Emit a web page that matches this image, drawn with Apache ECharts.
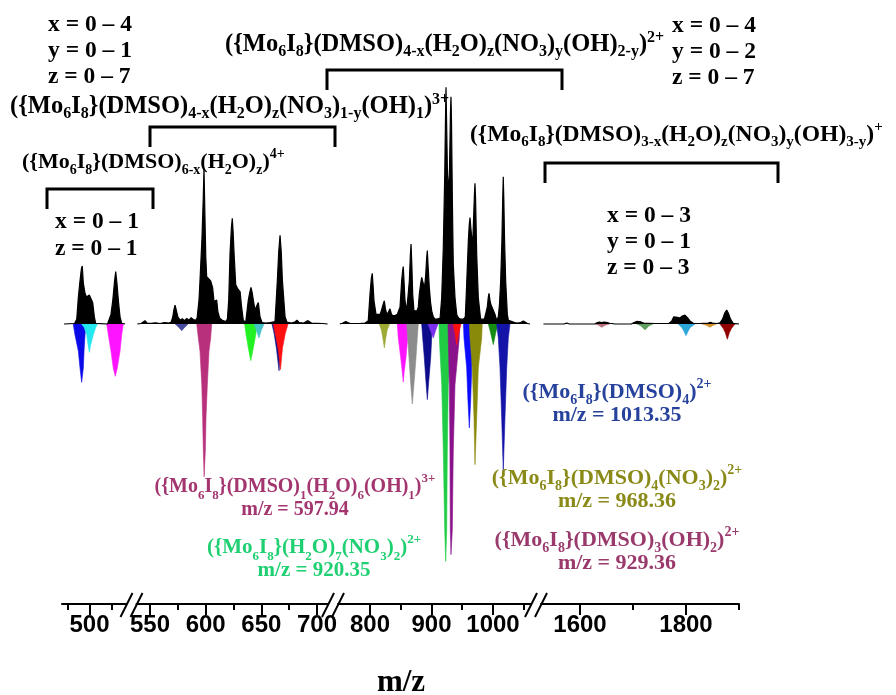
<!DOCTYPE html>
<html><head><meta charset="utf-8">
<script src="https://cdn.jsdelivr.net/npm/echarts@6/dist/echarts.min.js"></script>
<style>html,body{margin:0;padding:0;background:#fff}#c{width:896px;height:695px}</style>
</head><body><div id="c"></div>
<script>
// ---------------- DATA ----------------
const axisRanges = [[468.75, 542.05], [537.87, 709.88], [747.97, 1061.79], [1526.42, 1900]];
const majorTicks = [[500], [550, 600, 650, 700], [800, 900, 1000], [1600, 1800]];
const minorTicks = [[475, 525], [575, 625, 675], [850, 950, 1050], [1700, 1900]];

const expSeg1 = [[471,0],[483,0.2],[485.5,2],[487.3,11],[489.2,18],[490.8,23],[491.8,24.2],[493,17],[494.9,12.8],[496.5,11.3],[498,11.8],[499.8,12.1],[501.7,11.5],[503.6,9],[505.5,3],[507,0.3],[509,0],[520.5,0],[522.2,0.8],[524.4,4],[526.5,10],[528.5,18],[529.8,21.8],[531.2,17],[533,9],[534.7,3],[536.6,0.3],[540.5,0]];
const expSeg2 = [[538.6,0],[542,0.2],[543.5,0.8],[545.5,1.4],[547.5,0.4],[551,0.3],[555,0.5],[559,0.2],[563,0.6],[567,0.4],[569,0.8],[570.5,3],[571.5,6],[572.5,7.9],[573.5,6],[575,3],[577,1.6],[579,2.2],[581,1.4],[583,2.3],[585,1.6],[587,2.6],[589,1.8],[591,1.5],[592.3,2.5],[594,10],[594.9,18],[596.7,36],[597.8,52],[598.5,65],[599.2,48],[600.1,28],[600.9,19.7],[602.5,19],[604.5,18],[606.3,15],[607.5,9.4],[608.8,9.5],[609.9,10],[611,5],[612.5,2.5],[615,1.5],[618,1],[619.5,2],[620.7,10],[621.9,29.5],[623.1,40],[623.9,44],[624.7,38],[625.5,29.5],[627,16.3],[629,14.5],[630.9,13.5],[632.3,7],[633.8,1.5],[636,0.8],[638.3,10],[639.5,13],[640.7,15.3],[641.8,13],[642.8,10],[644.3,5.8],[645.8,7.5],[647.3,8.9],[648.8,3],[650.6,0.6],[654,0.4],[658,0.6],[662.3,1],[664.4,18.3],[665.6,30],[666.8,37],[667.9,30],[668.9,18.3],[671.3,3],[673,0.8],[677,0.4],[680,0.8],[682,1.6],[684,0.6],[688,0.4],[691.9,1.4],[695,0.4],[700,0.3],[705,0.2],[709.5,0]];
const expSeg3 = [[751,0],[755,0.3],[757.7,0.6],[760.5,1],[764,0.6],[768,0.2],[775,0.2],[785,0.3],[792,0.4],[797.2,1.4],[800,12.5],[802.2,19],[803.7,21.1],[805,16],[806.5,9.7],[809.8,4],[813,3.8],[816.3,4],[818.5,5.5],[820,7],[821.7,8.5],[823.3,9.7],[825,6.5],[827.2,4],[830,5],[832.5,6.3],[834.5,4.5],[836.3,3.5],[840.7,3.5],[844.4,4],[846.6,5.5],[848.8,7],[851.5,18],[853,22],[854.1,23.9],[855.5,17],[856.9,9.7],[859.7,5.5],[862.3,5.5],[864,18],[865.5,28],[866.7,33.3],[868,25],[869.4,12.5],[871.5,5.5],[873.2,5.5],[876.5,5.5],[878.5,7],[880.2,12.5],[882.5,17],[884.1,19.4],[885.5,18],[886.7,18],[888.5,15],[890.5,20],[892,27],[893.2,30.6],[894.5,24],[896.4,15.3],[898.5,9],[900.3,5.5],[903,3],[905.7,2],[910,2.2],[914,2.5],[916.6,11],[919.2,32],[921.5,62],[923,90],[923.6,98.6],[924.3,88],[926,62],[927.7,55],[929.3,65],[930.8,88],[931.7,94.7],[932.5,85],[934,50],[935.4,25],[938.2,11],[941,4],[944,2.5],[948,2],[952,2],[955,3],[957.2,16.7],[959.9,34.7],[961.3,41],[962.6,44.4],[964,40],[965.4,36],[967,33.7],[968.7,45.8],[969.8,54],[970.7,58.6],[971.7,52],[973.5,29],[976.1,11],[979.9,2],[983,1.8],[986,2],[988.1,2.5],[990.7,7],[992.3,11],[993.5,12.8],[995,10],[996.3,8.3],[998.4,7],[1000.5,7.8],[1003.3,4],[1006,1.4],[1008.6,3],[1010.5,8],[1012.5,18],[1014.5,35],[1015.8,52],[1016.7,61.4],[1017.6,52],[1018.8,35],[1020.6,18],[1023.3,4],[1025,1.5],[1028,0.8],[1031,1],[1033,1.7],[1035,0.6],[1040,0.4],[1045,0.6],[1049.3,1.2],[1052,0.4],[1056,0.2],[1060,0]];
const expSeg4 = [[1531,0],[1570,0],[1575,0.4],[1580,0],[1628,0],[1632,0.5],[1636,0.8],[1641,0.6],[1646,0.8],[1651,0.6],[1656,0.3],[1666,0],[1697,0],[1702,0.6],[1708,1.1],[1714,0.9],[1720,0.4],[1740,0.2],[1768,0.3],[1773,1.2],[1777,3],[1780.6,3.7],[1784,2.8],[1788.7,2.5],[1793,3.3],[1798.1,3.7],[1803,2.5],[1808,1.2],[1813.8,0.3],[1825,0.2],[1842,0.4],[1846,0.7],[1850,0.4],[1858,0.2],[1864.2,0.5],[1869,2],[1873,4.5],[1876.8,5.8],[1880,4.5],[1884,2],[1889,0.3],[1900,0]];

// simulated isotope envelopes (negative)
const sim491 = [[481.5,0],[483.5,-4.5],[487.3,-11.3],[489.2,-18.3],[491.1,-24.3],[493,-18.3],[493.8,-11.3],[494.9,-4.5],[496.5,0]];
const sim500 = [[491,0],[494,-1.5],[496.8,-4.5],[498.5,-9],[499.8,-11.8],[501.2,-9],[504.3,-4.5],[507,-1.5],[509,0]];
const sim529 = [[519.5,0],[521.4,-4.5],[524.4,-11.3],[527,-18.3],[529.3,-21.8],[531.6,-18.3],[534.7,-11.3],[536.6,-4.5],[538.4,0]];
const sim578 = [[572.5,0],[575.5,-1.2],[578.5,-2.8],[581.5,-1.2],[584.4,0]];
const sim598 = [[592,0],[593.4,-5.8],[594.9,-11.3],[596.5,-25.3],[597.3,-39.2],[597.9,-52.9],[598.6,-63.6],[599.7,-52.9],[600.3,-39.2],[601.5,-25.3],[603,-11.3],[604.5,-5.8],[605.4,0]];
const sim640 = [[635,0],[636.3,-4.4],[638.3,-10],[640.5,-15.3],[642.8,-10],[645,-4.4],[646,0]];
const sim648 = [[643.5,0],[645.5,-2.5],[647.9,-5.8],[650,-2.5],[652.5,0]];
const sim666 = [[659.6,0],[661.5,-4],[663.5,-10],[665.9,-19.5],[667.5,-10],[670,-4],[673,0]];
const sim667 = [[660.8,0],[662.5,-4],[665,-10],[667.2,-19],[669,-10],[671.5,-4],[674,0]];
const sim823 = [[815,0],[818.5,-2.5],[821,-6],[823.3,-10],[825.5,-6],[828,-2.5],[832,0]];
const sim854 = [[844.4,0],[846,-5.8],[849.9,-14],[852.5,-20],[854.1,-24.2],[855.5,-20],[858.5,-14],[861.3,-5.8],[862.3,0]];
const sim869 = [[859.7,0],[861.3,-5.8],[863.4,-14],[866.2,-25],[868.8,-33.3],[871.5,-25],[874.8,-14],[876.9,-5.8],[878.5,0]];
const sim893 = [[884,0],[885.7,-5.8],[888.3,-14],[891,-24],[893.2,-31.5],[895.5,-24],[898.7,-14],[900.3,-5.8],[901.5,0]];
const sim903 = [[894.3,0],[898,-2.5],[902.9,-5.8],[907,-2.5],[910.6,0]];
const sim920 = [[912.2,0],[912.7,-5.8],[916.6,-25.3],[919.2,-53],[921.5,-86],[923.1,-98.9],[924.7,-86],[925.7,-53],[927.3,-25.3],[932.8,-5.8],[933.5,0]];
const sim929 = [[926.8,0],[927.3,-5.8],[929,-25.3],[930,-53],[930.6,-86],[931.7,-96.1],[933.8,-86],[935.4,-53],[938.2,-25.3],[945.2,-5.8],[946,0]];
const sim941 = [[935,0],[938,-3.5],[941,-8.6],[944.5,-3.5],[948,0]];
const sim961 = [[952,0],[952.8,-5.8],[957.2,-18.3],[959.3,-32],[961.5,-43.3],[963.7,-32],[965.4,-18.3],[967,-5.8],[968,0]];
const sim968 = [[961.5,0],[962.6,-5.8],[966.3,-18.3],[969.1,-39],[970.7,-58.6],[973.5,-39],[976.1,-18.3],[981.6,-5.8],[982.5,0]];
const sim1000 = [[992.4,0],[996,-3.5],[1000.5,-8.6],[1004.5,-3.5],[1008.6,0]];
const sim1013 = [[1006,0],[1008.6,-5.8],[1011.4,-18.3],[1014.1,-39],[1016.7,-61.4],[1019.5,-39],[1022.3,-18.3],[1024.9,-5.8],[1027.6,0]];
const sim1641 = [[1628,0],[1635,-0.5],[1641,-1.4],[1648,-0.5],[1656,0]];
const sim1723 = [[1707,0],[1715,-0.8],[1722.6,-2.5],[1730,-0.8],[1738,0]];
const sim1800 = [[1785,0],[1792,-1.5],[1796,-3],[1800,-4.9],[1804,-3],[1808,-1.5],[1817,0]];
const sim1845 = [[1830,0],[1838,-0.5],[1845,-1.4],[1852,-0.5],[1858,0]];
const sim1878 = [[1864,0],[1870,-1.8],[1874,-3.5],[1878,-6.4],[1882,-3.5],[1886,-1.8],[1892.5,0]];

// text
const rangeTopLeft = ['x = 0 \u2013 4', 'y = 0 \u2013 1', 'z = 0 \u2013 7'];
const rangeTopRight = ['x = 0 \u2013 4', 'y = 0 \u2013 2', 'z = 0 \u2013 7'];
const rangeLeft = ['x = 0 \u2013 1', 'z = 0 \u2013 1'];
const rangeRight = ['x = 0 \u2013 3', 'y = 0 \u2013 1', 'z = 0 \u2013 3'];
const f3 = '({Mo{s|6}I{s|8}}(DMSO){s|4-x}(H{s|2}O){s|z}(NO{s|3}){s|1-y}(OH){s|1}){p|3+}';
const f4 = '({Mo{s|6}I{s|8}}(DMSO){s|6-x}(H{s|2}O){s|z}){p|4+}';
const f2 = '({Mo{s|6}I{s|8}}(DMSO){s|4-x}(H{s|2}O){s|z}(NO{s|3}){s|y}(OH){s|2-y}){p|2+}';
const f1 = '({Mo{s|6}I{s|8}}(DMSO){s|3-x}(H{s|2}O){s|z}(NO{s|3}){s|y}(OH){s|3-y}){p|+}';
const labBlue = ['({Mo{s|6}I{s|8}}(DMSO){s|4}){p|2+}', 'm/z = 1013.35'];
const labPink = ['({Mo{s|6}I{s|8}}(DMSO){s|1}(H{s|2}O){s|6}(OH){s|1}){p|3+}', 'm/z = 597.94'];
const labOlive = ['({Mo{s|6}I{s|8}}(DMSO){s|4}(NO{s|3}){s|2}){p|2+}', 'm/z = 968.36'];
const labGreen = ['({Mo{s|6}I{s|8}}(H{s|2}O){s|7}(NO{s|3}){s|2}){p|2+}', 'm/z = 920.35'];
const labPurple = ['({Mo{s|6}I{s|8}}(DMSO){s|3}(OH){s|2}){p|2+}', 'm/z = 929.36'];
const xTitle = 'm/z';

// ---------------- BUILD ----------------
const expSegs = [expSeg1, expSeg2, expSeg3, expSeg4];
const simLayers = [
  [0, sim491, '#0a0ae8'], [0, sim500, '#22e8f0'], [0, sim529, '#ff14ff'],
  [1, sim578, '#464a9c'], [1, sim598, '#b8307c'], [1, sim640, '#22f022'], [1, sim648, '#44c4c8'],
  [1, sim666, '#10108a'], [1, sim667, '#ff1010'],
  [2, sim823, '#9caa34'], [2, sim854, '#ff14ff'], [2, sim869, '#8c8c8c'], [2, sim893, '#0c0c8c'],
  [2, sim903, '#7a30ee'], [2, sim920, '#20cc44'], [2, sim929, '#8a128a'], [2, sim941, '#ff1010'],
  [2, sim961, '#0a0aff'], [2, sim968, '#8a8a0a'], [2, sim1000, '#148c14'], [2, sim1013, '#1414a8'],
  [3, sim1641, '#b8707c'], [3, sim1723, '#5e9e5e'], [3, sim1800, '#2ca8d8'], [3, sim1845, '#d4922a'], [3, sim1878, '#900000']
];
const gridBox = [[62, 126.5], [136.5, 328], [338, 531], [541, 739]];
const breaks = [131.5, 333, 536];
const AXIS_Y = 604;
const SERIF = '"Liberation Serif","Times New Roman",serif';
const SANS = '"Liberation Sans",Arial,sans-serif';

const grid = gridBox.map(b => ({left: b[0], width: b[1] - b[0], top: 84, height: 520}));
const xAxis = [], yAxis = [], series = [];
axisRanges.forEach((r, i) => {
  xAxis.push({type: 'value', gridIndex: i, min: r[0], max: r[1], position: 'bottom',
    axisLine: {show: true, onZero: false, lineStyle: {color: '#000', width: 2}},
    axisTick: {show: true, length: 11, customValues: majorTicks[i], lineStyle: {color: '#000', width: 2}},
    axisLabel: {show: true, customValues: majorTicks[i], margin: 9, color: '#000', fontSize: 24, fontWeight: 'bold', fontFamily: SANS,
      formatter: v => String(v)},
    splitLine: {show: false}});
  xAxis.push({type: 'value', gridIndex: i, min: r[0], max: r[1], position: 'bottom',
    axisLine: {show: false, onZero: false},
    axisTick: {show: true, length: 6, customValues: minorTicks[i], lineStyle: {color: '#000', width: 2}},
    axisLabel: {show: false}, splitLine: {show: false}});
  yAxis.push({type: 'value', gridIndex: i, min: -116.6667, max: 100, show: false, splitLine: {show: false}});
});
simLayers.forEach((L, k) => {
  series.push({type: 'line', xAxisIndex: 2 * L[0], yAxisIndex: L[0], data: L[1], symbol: 'none', silent: true,
    lineStyle: {color: L[2], width: 0.6}, areaStyle: {color: L[2], opacity: 1}, z: 3 + k * 0.01});
});
expSegs.forEach((d, i) => {
  series.push({type: 'line', xAxisIndex: 2 * i, yAxisIndex: i, data: d, symbol: 'none', silent: true,
    lineStyle: {color: '#000', width: 1.2}, areaStyle: {color: '#000', opacity: 1}, z: 5});
});

function rich(color, size) {
  const sub = Math.round(size * 0.64);
  return {
    s: {fontSize: sub, fontWeight: 'bold', fontFamily: SERIF, fill: color, lineHeight: 12, verticalAlign: 'bottom'},
    p: {fontSize: sub, fontWeight: 'bold', fontFamily: SERIF, fill: color, lineHeight: 12, verticalAlign: 'top'}
  };
}
function txt(text, x, y, color, size, align) {
  return {type: 'text', x: x, y: y, z: 50, silent: true,
    style: {text: text, fill: color, fontSize: size, fontWeight: 'bold', fontFamily: SERIF, lineHeight: 30,
      textAlign: align || 'left', textVerticalAlign: 'middle', rich: rich(color, size)}};
}
function bracket(x1, x2, yTop, yBot) {
  return {type: 'polyline', z: 40, silent: true, shape: {points: [[x1, yBot], [x1, yTop], [x2, yTop], [x2, yBot]]},
    style: {stroke: '#000', lineWidth: 3, fill: null}};
}
const g = [];
rangeTopLeft.forEach((t, i) => g.push(txt(t, 48, 25 + 26 * i, '#000', 23.5)));
rangeTopRight.forEach((t, i) => g.push(txt(t, 672, 26 + 26 * i, '#000', 23.5)));
rangeLeft.forEach((t, i) => g.push(txt(t, 55, 222 + 27 * i, '#000', 23.5)));
rangeRight.forEach((t, i) => g.push(txt(t, 607, 216 + 26 * i, '#000', 23.5)));
g.push(txt(f3, 10, 107, '#000', 24.5));
g.push(txt(f4, 22, 162, '#000', 22));
g.push(txt(f2, 225, 45, '#000', 24.5));
g.push(txt(f1, 470, 135, '#000', 23.6));
g.push(bracket(47, 153, 189, 209));
g.push(bracket(150, 335, 127, 147));
g.push(bracket(327, 562, 70, 90));
g.push(bracket(545, 778, 163, 183));
const COL = {blue: '#27429c', pink: '#a3366f', olive: '#8a8a18', green: '#1fd072', purple: '#9a3a6c'};
[[labBlue, 617, 392, COL.blue, 22], [labPink, 295, 487, COL.pink, 20], [labOlive, 617, 478, COL.olive, 22],
 [labGreen, 314, 548, COL.green, 21], [labPurple, 617, 540, COL.purple, 22]].forEach(a => {
  g.push(txt(a[0][0], a[1], a[2], a[3], a[4], 'center'));
  g.push(txt(a[0][1], a[1], a[2] + 23, a[3], a[4], 'center'));
});
breaks.forEach(c => {
  g.push({type: 'line', z: 40, silent: true, shape: {x1: c - 11, y1: AXIS_Y + 13, x2: c + 1, y2: AXIS_Y - 11}, style: {stroke: '#000', lineWidth: 2}});
  g.push({type: 'line', z: 40, silent: true, shape: {x1: c - 1, y1: AXIS_Y + 13, x2: c + 11, y2: AXIS_Y - 11}, style: {stroke: '#000', lineWidth: 2}});
});
g.push({type: 'text', x: 401, y: 683, z: 50, silent: true,
  style: {text: xTitle, fill: '#000', fontSize: 31, fontWeight: 'bold', fontFamily: SERIF, textAlign: 'center', textVerticalAlign: 'middle'}});

const chart = echarts.init(document.getElementById('c'));
chart.setOption({animation: false, backgroundColor: '#fff', grid, xAxis, yAxis, series, graphic: {elements: g}});
</script></body></html>
